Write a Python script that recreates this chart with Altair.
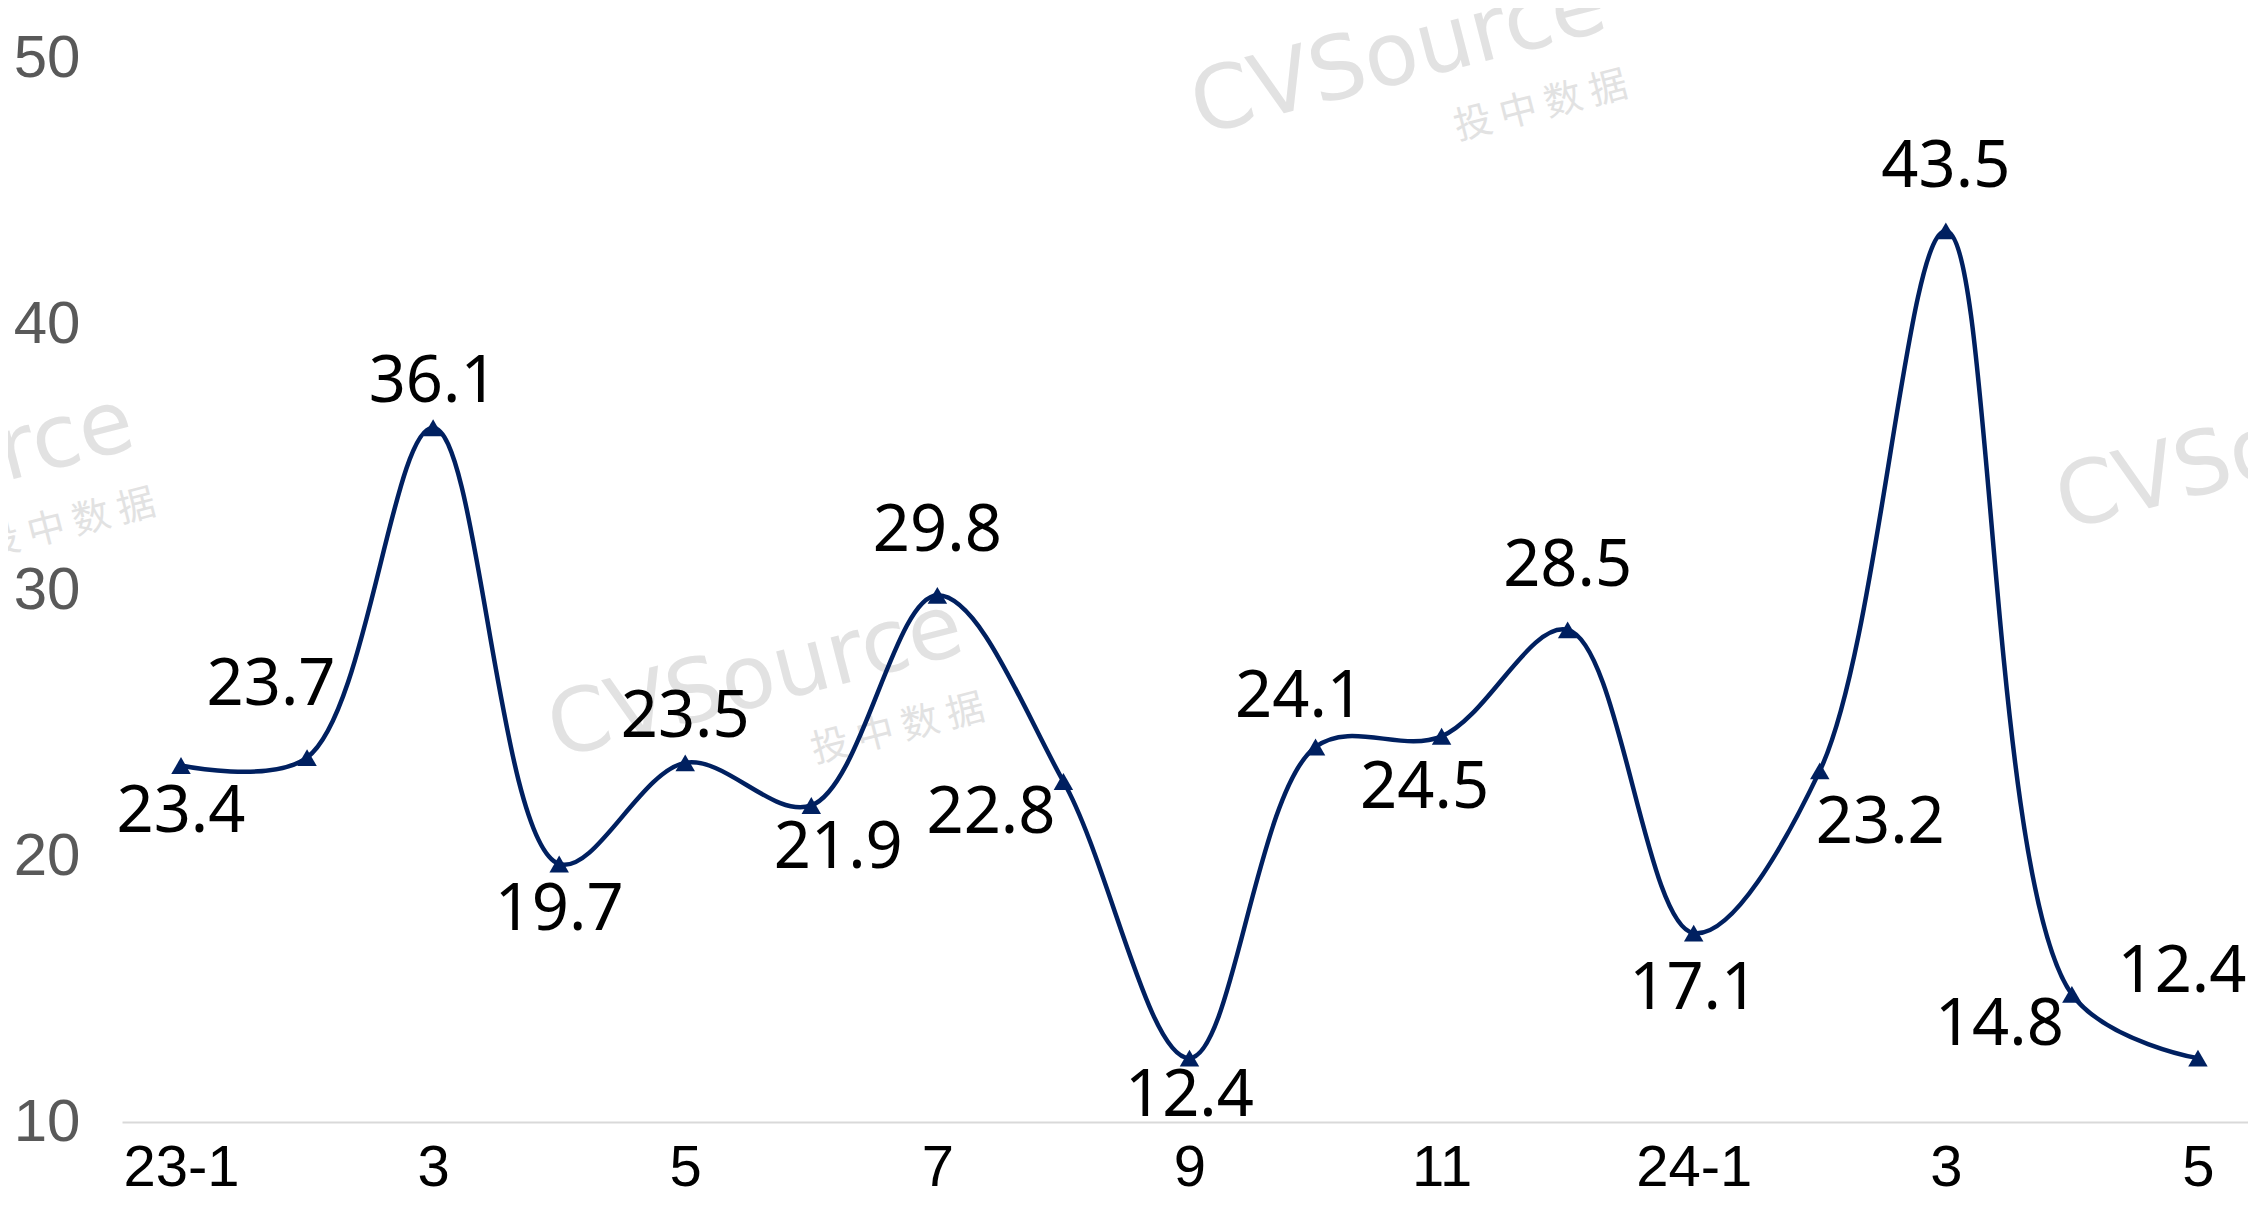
import altair as alt
import pandas as pd

# ---- data ----
months = ["23-1", "2", "3", "4", "5", "6", "7", "8", "9", "10", "11", "12",
          "24-1", "2", "3", "4", "5"]
values = [23.4, 23.7, 36.1, 19.7, 23.5, 21.9, 29.8, 22.8, 12.4, 24.1, 24.5,
          28.5, 17.1, 23.2, 43.5, 14.8, 12.4]
label_place = ["below", "upper_left", "above", "below", "above", "below_r",
               "above_high", "left", "below_near", "above_l", "below_l",
               "above_high", "below_low", "below_right", "above_high", "left",
               "upper_left_high"]
y_ticks = [10, 20, 30, 40, 50]
x_tick_idx = list(range(0, len(months), 2))

df = pd.DataFrame({
    "idx": list(range(len(values))),
    "month": months,
    "value": values,
    "place": label_place,
})
df["label"] = df["value"].map(lambda v: f"{v:.1f}")

LINE = "#002060"
label_expr = "[" + ",".join(f"'{m}'" for m in months) + "][datum.value]"

x_enc = alt.X(
    "idx:Q",
    scale=alt.Scale(domain=[-0.468, 16.397], nice=False, zero=False),
    axis=alt.Axis(values=x_tick_idx, labelExpr=label_expr, title=None,
                  grid=False, ticks=False, domain=True, domainColor="#d9d9d9",
                  domainWidth=2, labelFont="Liberation Sans", labelFontSize=58,
                  labelColor="#000000", labelPadding=17, labelFlush=False,
                  labelOverlap=False, labelBound=False),
)
y_enc = alt.Y(
    "value:Q",
    scale=alt.Scale(domain=[10, 50], nice=False, zero=False),
    axis=alt.Axis(values=y_ticks, title=None, grid=False, ticks=False,
                  domain=False, labelFont="Liberation Sans", labelFontSize=60,
                  labelColor="#595959", labelPadding=42),
)

base = alt.Chart(df)

# ---- watermarks (decorative) ----
wm_layers = []
wm_anchors = [(1078, 77), (435, 700), (1943, 472), (-394, 495)]
for ax_, ay_ in wm_anchors:
    wm_layers.append(
        alt.Chart(pd.DataFrame({"k": [0]})).mark_text(
            font="DejaVu Sans", fontSize=88, color="#e2e2e2", angle=345.5,
            align="left", baseline="alphabetic"
        ).encode(x=alt.value(ax_), y=alt.value(ay_), text=alt.value("CVSource"))
    )
    wm_layers.append(
        alt.Chart(pd.DataFrame({"k": [0]})).mark_text(
            font="Noto Sans CJK SC", fontSize=38, color="#e2e2e2", angle=345.5,
            align="left", baseline="alphabetic"
        ).encode(x=alt.value(ax_ + 258), y=alt.value(ay_ + 5),
                 text=alt.value("投 中 数 据"))
    )

line = base.mark_line(interpolate="catmull-rom", color=LINE,
                      strokeWidth=4.5).encode(x=x_enc, y=y_enc)
pts = base.mark_point(shape="triangle-up", filled=True, size=380, color=LINE,
                      opacity=1).encode(x=x_enc, y=y_enc)

placements = {
    "above": dict(align="center", dx=0, dy=-46),
    "above_high": dict(align="center", dx=0, dy=-64),
    "above_l": dict(align="center", dx=-16, dy=-50),
    "below": dict(align="center", dx=0, dy=46),
    "below_near": dict(align="center", dx=0, dy=38),
    "below_low": dict(align="center", dx=0, dy=56),
    "below_r": dict(align="center", dx=27, dy=43),
    "below_l": dict(align="center", dx=-17, dy=52),
    "upper_left": dict(align="center", dx=-36, dy=-73),
    "upper_left_high": dict(align="center", dx=-16, dy=-86),
    "left": dict(align="right", dx=-8, dy=31),
    "below_right": dict(align="left", dx=-4, dy=52),
}
label_layers = []
for name, p in placements.items():
    label_layers.append(
        base.transform_filter(alt.datum.place == name).mark_text(
            font="Noto Sans", fontSize=65, color="#000000",
            baseline="middle", **p
        ).encode(x=x_enc, y=y_enc, text="label:N")
    )

chart = alt.layer(*wm_layers, line, pts, *label_layers).properties(
    width=2126, height=1064,
    autosize=alt.AutoSizeParams(type="none"),
    padding={"left": 114, "top": 50, "right": 0, "bottom": 78},
    background="#ffffff",
).configure_view(stroke=None)

chart.save("out.html", embed_options={"renderer": "svg", "actions": False})
